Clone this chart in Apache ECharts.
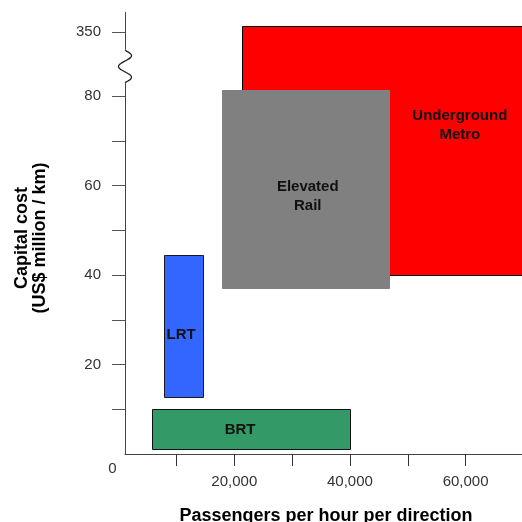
<!DOCTYPE html>
<html><head><meta charset="utf-8">
<script src="https://cdn.jsdelivr.net/npm/echarts@6/dist/echarts.min.js"></script>
<style>html,body{margin:0;padding:0;background:#fff;overflow:hidden}#c{width:522px;height:522px}</style>
</head><body><div id="c"></div>
<script>
// ---- data ----
const modes = ['Underground\nMetro', 'Elevated\nRail', 'LRT', 'BRT'];
const paxMin = [21400, 17900, 7900, 5750];
const paxMax = [80000, 46800, 14600, 40000];
const costMin = [40, 37.1, 12.8, 1.2];
const costMax = [351.5, 81.4, 44.5, 10];
const labelPax = [59000, 32700, 10800, 21000];
const labelCost = [73.4, 57.6, 26.6, 5.4];
const xTickValues = [10000, 20000, 30000, 40000, 50000, 60000, 70000];
const xLabelValues = [20000, 40000, 60000];
const yTickValues = [10, 20, 30, 40, 50, 60, 70, 80, 350];
const yLabelValues = [20, 40, 60, 80, 350];
const xMin = 1100, xMax = 72000, yMin = 0, yMax = 354.55;
const breakStart = 83, breakEnd = 346, breakGap = 7.25;

// ---- styles ----
const fills = ['#ff0000', '#808080', '#3366ff', '#339966'];
const strokes = ['#000000', '#808080', '#1a1a1a', '#111111'];
const FONT = '"Liberation Sans", Arial, sans-serif';

const data = modes.map((m, i) => [paxMin[i], paxMax[i], costMin[i], costMax[i], labelPax[i], labelCost[i]]);

const chart = echarts.init(document.getElementById('c'), null, {renderer: 'canvas'});
chart.setOption({
  animation: false,
  backgroundColor: '#fff',
  grid: {left: 125, right: -13, top: 12, bottom: 68, containLabel: false, outerBoundsMode: 'none'},
  xAxis: {
    type: 'value', min: xMin, max: xMax,
    axisLine: {show: true, lineStyle: {color: '#444', width: 1}},
    axisTick: {show: true, length: 12, customValues: xTickValues, lineStyle: {color: '#333', width: 1}},
    axisLabel: {show: true, customValues: xLabelValues, margin: 20, fontSize: 15, color: '#333', fontFamily: FONT,
      formatter: v => v.toLocaleString('en-US')},
    splitLine: {show: false},
    name: 'Passengers per hour per direction', nameLocation: 'middle', nameGap: 53,
    nameTextStyle: {fontSize: 18, fontWeight: 'bold', color: '#000', fontFamily: FONT, padding: [0, 8, 0, 0]}
  },
  yAxis: {
    type: 'value', min: yMin, max: yMax,
    breaks: [{start: breakStart, end: breakEnd, gap: breakGap}],
    breakArea: {show: true, expandOnClick: false, itemStyle: {color: 'rgba(0,0,0,0)', borderColor: 'rgba(0,0,0,0)', borderWidth: 0}},
    axisLine: {show: true, lineStyle: {color: '#444', width: 1}},
    axisTick: {show: true, length: 13, customValues: yTickValues, lineStyle: {color: '#555', width: 1}},
    axisLabel: {show: true, customValues: yLabelValues, margin: 24, fontSize: 15, color: '#333', fontFamily: FONT},
    splitLine: {show: false},
    name: 'Capital cost\n(US$ million / km)', nameLocation: 'middle', nameGap: 76, nameRotate: 90,
    nameTextStyle: {fontSize: 18, fontWeight: 'bold', color: '#000', fontFamily: FONT, lineHeight: 18, padding: [0, 10, 0, 0]}
  },
  series: [{
    type: 'custom',
    clip: false,
    data: data,
    encode: {x: [0, 1, 4], y: [2, 3, 5]},
    renderItem: function (params, api) {
      const i = params.dataIndex;
      const tl = api.coord([api.value(0), api.value(3)]);
      const br = api.coord([api.value(1), api.value(2)]);
      const lp = api.coord([api.value(4), api.value(5)]);
      const x0 = Math.round(tl[0]) + 0.5, y0 = Math.round(tl[1]) + 0.5;
      const x1 = Math.round(br[0]) + 0.5, y1 = Math.round(br[1]) + 0.5;
      return {
        type: 'group',
        children: [
          {type: 'rect', shape: {x: x0, y: y0, width: x1 - x0, height: y1 - y0},
           style: {fill: fills[i], stroke: null}},
          {type: 'polyline', shape: {points: [[x1, y0], [x0, y0], [x0, y1], [x1, y1]].concat(x1 < 522 ? [[x1, y0]] : [])},
           style: {fill: null, stroke: strokes[i], lineWidth: 1}},
          {type: 'text', style: {text: modes[i], x: lp[0], y: lp[1], align: 'center', verticalAlign: 'middle',
             fontSize: 15, fontWeight: 'bold', fontFamily: FONT, fill: '#111', lineHeight: 19}}
        ]
      };
    }
  }]
});

// axis-break squiggle and origin label
const a = chart.convertToPixel({gridIndex: 0}, [xMin, breakStart]);
const b = chart.convertToPixel({gridIndex: 0}, [xMin, breakEnd]);
const o = chart.convertToPixel({gridIndex: 0}, [xMin, yMin]);
const pts = [];
for (let k = 0; k <= 40; k++) {
  const t = k / 40;
  pts.push([b[0] + 6.5 * Math.sin(3 * Math.PI * t), b[1] + (a[1] - b[1]) * t]);
}
chart.setOption({
  graphic: [
    {type: 'line', z: 100, shape: {x1: a[0], y1: a[1] + 0.5, x2: b[0], y2: b[1] - 0.5}, style: {stroke: '#fff', lineWidth: 3}},
    {type: 'polyline', z: 101, shape: {points: pts, smooth: 0.3}, style: {stroke: '#222', lineWidth: 1.3, fill: null}},
    {type: 'text', z: 101, x: o[0] - 12.5, y: o[1] + 15,
     style: {text: '0', align: 'center', verticalAlign: 'middle', fontSize: 15, fontFamily: FONT, fill: '#333'}}
  ]
});
</script></body></html>
